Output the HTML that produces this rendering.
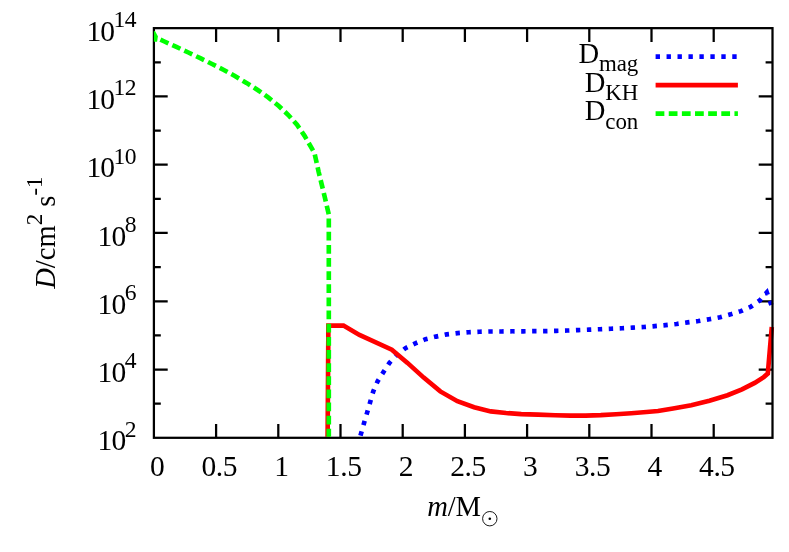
<!DOCTYPE html>
<html><head><meta charset="utf-8"><title>D vs m</title>
<style>html,body{margin:0;padding:0;background:#fff}svg{display:block;will-change:transform}text{font-family:"Liberation Serif",serif;fill:#000}</style>
</head><body>
<svg width="789" height="552" viewBox="0 0 789 552">
<rect width="789" height="552" fill="#fff"/>
<defs><clipPath id="c"><rect x="153.50" y="28.15" width="621.30" height="408.55"/></clipPath></defs>
<g stroke="#000" stroke-width="2.25" fill="none" stroke-linecap="butt">
<path d="M216.10,437.80 v-13.8 M216.10,28.15 v13.8"/>
<path d="M278.30,437.80 v-13.8 M278.30,28.15 v13.8"/>
<path d="M340.50,437.80 v-13.8 M340.50,28.15 v13.8"/>
<path d="M402.70,437.80 v-13.8 M402.70,28.15 v13.8"/>
<path d="M464.90,437.80 v-13.8 M464.90,28.15 v13.8"/>
<path d="M527.10,437.80 v-13.8 M527.10,28.15 v13.8"/>
<path d="M589.30,437.80 v-13.8 M589.30,28.15 v13.8"/>
<path d="M651.50,437.80 v-13.8 M651.50,28.15 v13.8"/>
<path d="M713.70,437.80 v-13.8 M713.70,28.15 v13.8"/>
<path d="M153.90,403.66 h6.90 M772.50,403.66 h-6.90"/>
<path d="M153.90,369.52 h13.80 M772.50,369.52 h-13.80"/>
<path d="M153.90,335.39 h6.90 M772.50,335.39 h-6.90"/>
<path d="M153.90,301.25 h13.80 M772.50,301.25 h-13.80"/>
<path d="M153.90,267.11 h6.90 M772.50,267.11 h-6.90"/>
<path d="M153.90,232.97 h13.80 M772.50,232.97 h-13.80"/>
<path d="M153.90,198.84 h6.90 M772.50,198.84 h-6.90"/>
<path d="M153.90,164.70 h13.80 M772.50,164.70 h-13.80"/>
<path d="M153.90,130.56 h6.90 M772.50,130.56 h-6.90"/>
<path d="M153.90,96.43 h13.80 M772.50,96.43 h-13.80"/>
<path d="M153.90,62.29 h6.90 M772.50,62.29 h-6.90"/>
</g>
<g fill="none" stroke-width="4.65" stroke-linejoin="miter" clip-path="url(#c)">
<path d="M360.47,435.60 L361.10,433.45 L364.10,422.80 L367.20,412.40 L370.30,401.70 L373.30,391.25 L377.70,381.15 L383.50,371.95 L389.40,362.90 L396.60,355.00 L405.50,348.15 L415.30,343.35 L425.50,339.20 L436.00,336.60 L446.70,334.40 L457.70,333.10 L468.65,332.20 L479.60,331.75 L490.55,331.45 L501.50,331.45 L512.45,331.30 L523.40,331.30 L534.35,331.15 L545.30,331.10 L556.30,330.85 L567.20,330.55 L578.20,330.10 L589.10,329.65 L600.10,329.20 L611.00,328.70 L622.00,328.30 L632.90,327.65 L643.90,327.05 L654.95,326.10 L665.70,325.15 L676.60,323.95 L687.60,322.40 L698.40,321.05 L709.30,319.20 L720.10,317.25 L730.60,314.35 L740.95,311.15 L750.85,306.75 L759.80,300.40 L766.85,292.40 L772.60,308.40" stroke="#0000ff" stroke-dasharray="4.38 6.573"/>
<path d="M327.60,437.80 L328.40,325.55 L343.50,325.55 L359.45,334.97 L391.80,349.70 L407.50,362.90 L423.70,377.60 L440.30,391.40 L457.40,401.20 L474.10,407.25 L490.80,411.40 L506.05,413.05 L521.25,414.10 L538.00,414.65 L555.20,415.20 L570.40,415.55 L585.60,415.55 L600.80,415.10 L616.05,414.30 L631.25,413.30 L646.50,412.05 L658.00,411.00 L673.10,408.45 L691.25,405.20 L709.40,400.65 L727.50,395.20 L742.00,389.40 L754.70,382.90 L763.75,377.10 L767.80,373.60 L771.80,327.00" stroke="#ff0000"/>
</g>
<rect x="153.90" y="28.15" width="618.60" height="409.65" fill="none" stroke="#000" stroke-width="2.25"/>
<g fill="none" stroke-width="4.65" stroke-linejoin="miter" clip-path="url(#c)">
<path d="M158.60,38.85 L164.40,41.50 L176.40,46.90 L188.40,52.50 L200.30,58.20 L212.05,64.00 L223.85,69.95 L235.30,76.20 L246.50,82.90 L257.70,90.00 L268.50,97.60 L278.80,106.00 L288.30,115.00 L297.00,124.80 L304.40,135.60 L310.95,146.90 L314.45,153.00 L315.80,159.00 L318.60,171.70 L321.75,184.60 L324.80,197.20 L327.80,210.20 L328.80,214.50 L328.80,437.80" stroke="#00ff00" stroke-dasharray="8.76 4.38" stroke-dashoffset="11.14"/>
</g>
<polygon points="153.85,31.2 155.0,30.9 157.9,36.3 157.1,41.7 153.85,41.7" fill="#00ff00"/>
<g fill="none" stroke-width="4.65">
<path d="M655.6,56.6 H737.9" stroke="#0000ff" stroke-dasharray="4.38 6.573"/>
<path d="M655.6,85.1 H737.9" stroke="#ff0000"/>
<path d="M655.6,113.6 H737.9" stroke="#00ff00" stroke-dasharray="8.76 4.38"/>
</g>
<text x="599.2" y="63.0" text-anchor="end" font-size="28.6">D</text><text x="638.3" y="71.4" text-anchor="end" font-size="22.9">mag</text>
<text x="605.5" y="91.6" text-anchor="end" font-size="28.6">D</text><text x="638.3" y="100.0" text-anchor="end" font-size="22.9">KH</text>
<text x="605.5" y="120.1" text-anchor="end" font-size="28.6">D</text><text x="638.3" y="128.5" text-anchor="end" font-size="22.9">con</text>
<text x="97.6" y="450.4" font-size="29.5" letter-spacing="-0.8">10</text><text x="124.7" y="436.7" font-size="23.6" letter-spacing="-0.5">2</text>
<text x="97.6" y="382.1" font-size="29.5" letter-spacing="-0.8">10</text><text x="124.7" y="368.4" font-size="23.6" letter-spacing="-0.5">4</text>
<text x="97.6" y="313.9" font-size="29.5" letter-spacing="-0.8">10</text><text x="124.7" y="300.2" font-size="23.6" letter-spacing="-0.5">6</text>
<text x="97.6" y="245.6" font-size="29.5" letter-spacing="-0.8">10</text><text x="124.7" y="231.9" font-size="23.6" letter-spacing="-0.5">8</text>
<text x="86.4" y="177.3" font-size="29.5" letter-spacing="-0.8">10</text><text x="113.5" y="163.6" font-size="23.6" letter-spacing="-0.5">10</text>
<text x="86.4" y="109.0" font-size="29.5" letter-spacing="-0.8">10</text><text x="113.5" y="95.3" font-size="23.6" letter-spacing="-0.5">12</text>
<text x="86.4" y="40.7" font-size="29.5" letter-spacing="-0.8">10</text><text x="113.5" y="27.0" font-size="23.6" letter-spacing="-0.5">14</text>
<text x="157.1" y="475.7" text-anchor="middle" font-size="29.5" letter-spacing="-0.4">0</text>
<text x="219.3" y="475.7" text-anchor="middle" font-size="29.5" letter-spacing="-0.4">0.5</text>
<text x="281.5" y="475.7" text-anchor="middle" font-size="29.5" letter-spacing="-0.4">1</text>
<text x="343.7" y="475.7" text-anchor="middle" font-size="29.5" letter-spacing="-0.4">1.5</text>
<text x="405.9" y="475.7" text-anchor="middle" font-size="29.5" letter-spacing="-0.4">2</text>
<text x="468.1" y="475.7" text-anchor="middle" font-size="29.5" letter-spacing="-0.4">2.5</text>
<text x="530.3" y="475.7" text-anchor="middle" font-size="29.5" letter-spacing="-0.4">3</text>
<text x="592.5" y="475.7" text-anchor="middle" font-size="29.5" letter-spacing="-0.4">3.5</text>
<text x="654.7" y="475.7" text-anchor="middle" font-size="29.5" letter-spacing="-0.4">4</text>
<text x="716.9" y="475.7" text-anchor="middle" font-size="29.5" letter-spacing="-0.4">4.5</text>
<text x="427.3" y="515.8" font-size="28.6"><tspan font-style="italic">m</tspan><tspan dx="-0.3">/</tspan><tspan dx="-0.2">M</tspan></text>
<circle cx="489.8" cy="518.7" r="7.2" fill="none" stroke="#000" stroke-width="0.9"/><circle cx="489.8" cy="518.7" r="1.3" fill="#000"/>
<text transform="translate(55.4,288.8) rotate(-90)" font-size="28.6"><tspan font-style="italic">D</tspan>/cm<tspan font-size="22.9" dy="-13.6">2</tspan><tspan dy="13.6"> s</tspan><tspan font-size="22.9" dy="-13.6">-1</tspan></text>
</svg></body></html>
